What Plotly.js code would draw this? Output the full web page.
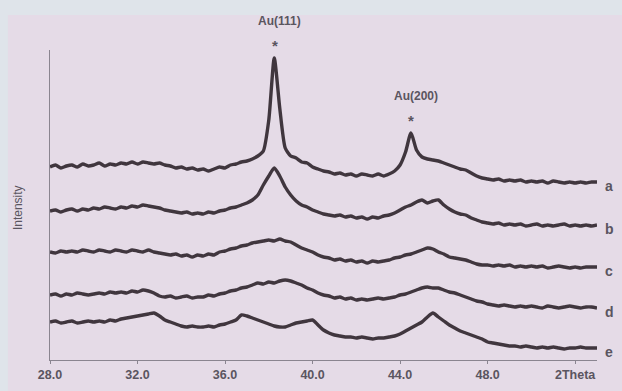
<!DOCTYPE html>
<html>
<head>
<meta charset="utf-8">
<script src="https://cdn.plot.ly/plotly-3.0.1.min.js"></script>
<style>html,body{margin:0;padding:0;background:#dfe4ea;}#chart{width:622px;height:391px;}</style>
</head>
<body>
<div id="chart"></div>
<script>
// 2Theta grid (degrees)
const twoTheta = [];
for (let i = 0; i <= 100; i++) twoTheta.push(28 + i * 0.25);

// Stacked intensities (arbitrary units, curves offset vertically)
const curveA = [193,195,192,194, 195,193,196,194, 195,197,194,196, 195,197,196,198, 196,198,197,196,
  197,195,194,192, 193,191,192,190, 191,189,191,193, 192,195,196,198, 199,201,204,209,
  240,302,252,212, 204,202,198,197, 193,191,189,188, 186,187,185,186, 184,186,185,184,
  186,184,186,189, 195,208,227,210, 203,201,200,199, 197,195,193,191, 190,187,184,182,
  181,180,181,179, 180,179,180,178, 179,178,179,177, 179,178,177,178, 177,178,177,178, 178];
const curveB = [149,150,148,150, 151,149,151,150, 152,151,153,152, 151,153,152,154, 153,155,154,153,
  152,150,149,148, 147,148,146,147, 146,148,147,149, 150,152,153,155, 157,160,165,175,
  184,192,184,173, 165,159,155,153, 150,148,146,145, 144,145,143,144, 142,143,141,143,
  142,144,145,147, 150,153,155,158, 160,157,159,160, 155,151,148,146, 145,142,140,138,
  137,136,137,135, 136,135,136,134, 135,136,134,135, 134,135,136,134, 135,134,135,134, 135];
const curveC = [108,107,109,108, 109,108,110,109, 108,110,109,108, 110,109,108,110, 109,108,110,108,
  107,106,105,106, 104,105,103,105, 104,106,105,108, 109,111,112,114, 115,117,118,119,
  120,119,121,119, 118,115,112,110, 108,105,103,102, 100,101,99,100, 98,99,97,99,
  98,99,100,102, 103,105,106,108, 110,112,111,108, 106,103,102,101, 100,98,96,95,
  95,94,95,94, 95,93,94,93, 94,93,94,92, 93,94,93,92, 93,92,93,93, 93];
const curveD = [65,66,64,66, 65,67,66,65, 66,67,66,68, 67,68,67,69, 68,70,69,67,
  64,63,64,62, 63,64,62,63, 63,65,64,66, 67,69,70,72, 73,75,77,76,
  78,77,79,80, 79,77,75,72, 70,67,65,64, 62,63,61,62, 60,61,60,61,
  62,61,62,63, 65,66,68,70, 72,73,72,72, 70,68,67,65, 63,61,59,58,
  56,55,54,55, 54,53,54,53, 54,53,52,54, 53,52,53,54, 53,52,53,53, 52];
const curveE = [38,39,37,38, 39,37,38,39, 38,39,38,40, 39,41,42,43, 44,45,46,47,
  44,40,38,36, 34,33,34,33, 33,34,33,35, 36,38,40,45, 44,42,40,38,
  36,34,33,33, 35,37,38,39, 40,35,30,27, 25,24,23,23, 22,23,22,21,
  22,22,23,24, 26,29,32,35, 38,43,47,43, 39,35,32,29, 27,25,23,21,
  18,17,16,15, 14,14,13,14, 13,12,13,12, 13,12,11,12, 12,13,12,12, 12];

const seriesNames = ['a','b','c','d','e'];
const seriesData = [curveA, curveB, curveC, curveD, curveE];

const tickVals = [28, 32, 36, 40, 44, 48, 52];
const tickText = ['28.0', '32.0', '36.0', '40.0', '44.0', '48.0', '2Theta'];

const peakLabels = ['Au(111)', 'Au(200)'];
const peakPos = [38.27, 44.48];
const peakTop = [302, 227];

const lineColor = 'rgba(50,40,48,0.92)';
const textColor = '#5a5560';
const font = 'Liberation Sans, Arial, sans-serif';

const traces = seriesData.map((ys, i) => ({
  x: twoTheta, y: ys, type: 'scatter', mode: 'lines', name: seriesNames[i],
  line: {color: lineColor, width: 3.4, shape: 'spline', smoothing: 0.6}, hoverinfo: 'skip',
  cliponaxis: false
}));

const annotations = [];
seriesData.forEach((ys, i) => {
  annotations.push({
    xref: 'paper', yref: 'y', x: 1, y: ys[ys.length - 1], yshift: -4, xanchor: 'left', yanchor: 'middle',
    xshift: 6, text: seriesNames[i], showarrow: false,
    font: {family: font, size: 14, color: textColor, weight: 'bold'}
  });
});
peakLabels.forEach((lab, i) => {
  annotations.push({
    xref: 'x', yref: 'y', x: peakPos[i], y: peakTop[i], yshift: 37, xanchor: 'center', yanchor: 'middle',
    xshift: 5, text: lab, showarrow: false,
    font: {family: font, size: 12, color: textColor, weight: 'bold'}
  });
  annotations.push({
    xref: 'x', yref: 'y', x: peakPos[i], y: peakTop[i], yshift: 13, xanchor: 'center', yanchor: 'middle',
    text: '*', showarrow: false,
    font: {family: font, size: 15, color: textColor, weight: 'bold'}
  });
});
annotations.push({
  xref: 'paper', yref: 'paper', x: 0, y: 0.49, xanchor: 'center', yanchor: 'middle',
  xshift: -32, text: 'Intensity', textangle: -90, showarrow: false,
  font: {family: font, size: 12, color: textColor}
});

const layout = {
  width: 622, height: 391,
  margin: {l: 50, r: 25, t: 50, b: 31},
  paper_bgcolor: '#dfe4ea',
  plot_bgcolor: 'rgba(0,0,0,0)',
  showlegend: false,
  xaxis: {
    range: [28, 53], tickvals: tickVals, ticktext: tickText,
    showgrid: false, zeroline: false, showline: true, linecolor: '#8a8590', linewidth: 1,
    ticks: 'outside', ticklen: 3, tickcolor: '#8a8590',
    tickfont: {family: font, size: 12.5, color: textColor, weight: 'bold'}
  },
  yaxis: {
    range: [0, 310], showticklabels: false, showgrid: false, zeroline: false,
    showline: true, linecolor: '#8a8590', linewidth: 1, ticks: ''
  },
  shapes: [{
    type: 'rect', xref: 'paper', yref: 'paper', layer: 'below',
    x0: -0.077, x1: 1.06, y0: -0.11, y1: 1.113,
    fillcolor: '#e5dbe7', line: {width: 0}
  }],
  annotations: annotations
};

Plotly.newPlot('chart', traces, layout, {displayModeBar: false, staticPlot: true});
</script>
</body>
</html>
